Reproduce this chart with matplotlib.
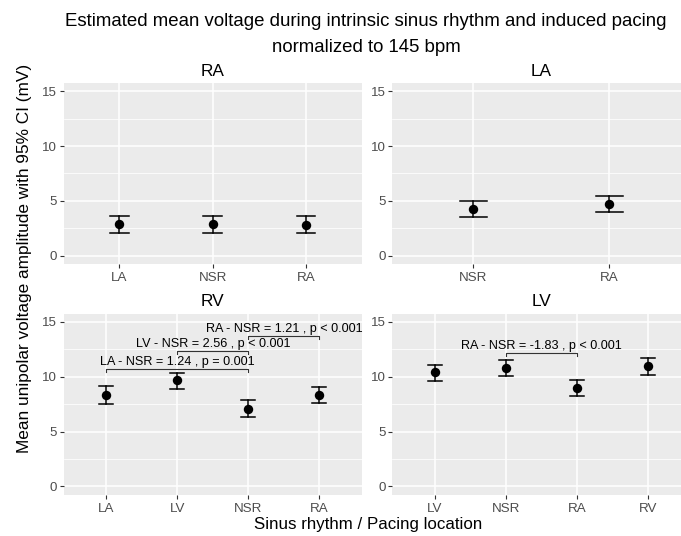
import matplotlib
matplotlib.use("Agg")
import matplotlib.pyplot as plt
from matplotlib.ticker import MultipleLocator

plt.rcParams['font.family'] = ['Liberation Sans', 'DejaVu Sans']

W, H = 681, 536

# ---- data ----
panels = ["RA", "LA", "RV", "LV"]

ra_cats = ["LA", "NSR", "RA"]
ra_mean = [2.90, 2.88, 2.85]
ra_lo = [2.10, 2.10, 2.05]
ra_hi = [3.65, 3.63, 3.60]

la_cats = ["NSR", "RA"]
la_mean = [4.22, 4.71]
la_lo = [3.49, 3.98]
la_hi = [4.95, 5.46]

rv_cats = ["LA", "LV", "NSR", "RA"]
rv_mean = [8.34, 9.67, 7.09, 8.31]
rv_lo = [7.52, 8.90, 6.36, 7.58]
rv_hi = [9.13, 10.36, 7.85, 9.04]

lv_cats = ["LV", "NSR", "RA", "RV"]
lv_mean = [10.40, 10.82, 8.97, 10.97]
lv_lo = [9.64, 10.06, 8.27, 10.18]
lv_hi = [11.09, 11.55, 9.73, 11.73]

# comparisons: (group1, group2, y position, label)
rv_comp = [("LA", "NSR", 10.70, "LA - NSR = 1.24 , p = 0.001"),
           ("LV", "NSR", 12.34, "LV - NSR = 2.56 , p < 0.001"),
           ("NSR", "RA", 13.70, "RA - NSR = 1.21 , p < 0.001")]
lv_comp = [("NSR", "RA", 12.18, "RA - NSR = -1.83 , p < 0.001")]

y_ticks = [0, 5, 10, 15]

data = {
    "RA": (ra_cats, ra_mean, ra_lo, ra_hi, []),
    "LA": (la_cats, la_mean, la_lo, la_hi, []),
    "RV": (rv_cats, rv_mean, rv_lo, rv_hi, rv_comp),
    "LV": (lv_cats, lv_mean, lv_lo, lv_hi, lv_comp),
}

fig = plt.figure(figsize=(W / 100, H / 100), dpi=100)

def rect(l, t, r, b):
    return [l / W, 1 - b / H, (r - l) / W, (b - t) / H]

positions = {
    "RA": rect(63.5, 83, 362, 264),
    "LA": rect(392, 83, 690.5, 264),
    "RV": rect(63.5, 313.7, 362, 494.7),
    "LV": rect(392, 313.7, 690.5, 494.7),
}

grey_text = "#4D4D4D"
for name in panels:
    cats, mean, lo, hi, comps = data[name]
    ax = fig.add_axes(positions[name])
    ax.set_facecolor("#EBEBEB")
    for s in ax.spines.values():
        s.set_visible(False)
    x = list(range(len(cats)))
    ax.set_xlim(-0.6, len(cats) - 1 + 0.6)
    ax.set_ylim(-0.75, 15.75)
    ax.set_xticks(x)
    ax.set_xticklabels(cats)
    ax.set_yticks(y_ticks)
    ax.yaxis.set_minor_locator(MultipleLocator(2.5))
    ax.grid(which="major", color="white", lw=1.1, zorder=0)
    ax.grid(which="minor", axis="y", color="white", lw=0.55, zorder=0)
    ax.set_axisbelow(True)
    ax.tick_params(axis="both", which="major", length=2.7, width=0.8, color="#333333",
                   labelcolor=grey_text, labelsize=9.6, pad=1.8)
    ax.tick_params(axis="x", which="major", pad=3.2)
    ax.tick_params(axis="y", which="minor", length=0)
    # error bars
    for xi, m, l, h in zip(x, mean, lo, hi):
        ax.plot([xi, xi], [l, h], color="black", lw=1.1, zorder=3)
        ax.plot([xi - 0.1, xi + 0.1], [l, l], color="black", lw=1.1, zorder=3)
        ax.plot([xi - 0.1, xi + 0.1], [h, h], color="black", lw=1.1, zorder=3)
    ax.scatter(x, mean, s=46, color="black", zorder=4, linewidths=0)
    # brackets
    for g1, g2, yp, lab in comps:
        x1, x2 = cats.index(g1), cats.index(g2)
        tip = 0.25
        ax.plot([x1, x1, x2, x2], [yp - tip, yp, yp, yp - tip], color="#333333",
                lw=0.8, zorder=5, clip_on=False)
        ax.annotate(lab, xy=((x1 + x2) / 2, yp), xytext=(0, 0.8), textcoords="offset points",
                    ha="center", va="bottom", fontsize=9.1, color="black",
                    annotation_clip=False, zorder=6)
    ax.set_title(name, fontsize=12.4, pad=5.2, color="black")

fig.text(366 / W, 1 - 21 / H, "Estimated mean voltage during intrinsic sinus rhythm and induced pacing",
         ha="center", va="center", fontsize=13.4)
fig.text(366 / W, 1 - 47 / H, "normalized to 145 bpm", ha="center", va="center", fontsize=13.4)
fig.text(25 / W, 1 - 258 / H, "Mean unipolar voltage amplitude with 95% CI (mV)", rotation=90,
         ha="center", va="center", fontsize=12.4)
fig.text(368 / W, 1 - 524 / H, "Sinus rhythm / Pacing location", ha="center", va="center", fontsize=12.2)

fig.savefig("out.png", dpi=100, facecolor="white")
